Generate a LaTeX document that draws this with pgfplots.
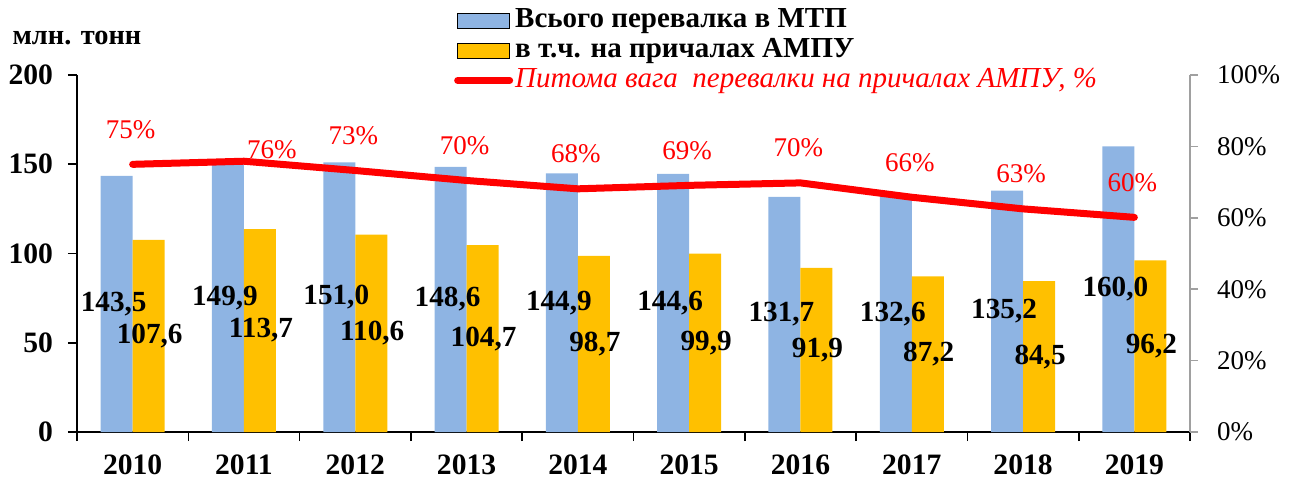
\documentclass[border=0pt]{standalone}
\usepackage{pgfplots}
\pgfplotsset{compat=1.18}
\usepackage{pgfplotstable}
\usepackage{fontspec}
\setmainfont{Liberation Serif}

\definecolor{barblue}{RGB}{142,180,227}
\definecolor{barorange}{RGB}{255,192,0}
\definecolor{axgray}{RGB}{160,160,160}

% обсяги перевалки, млн. тонн
\pgfplotstableread{
x total ampu
0 143.5 107.6
1 149.9 113.7
2 151.0 110.6
3 148.6 104.7
4 144.9 98.7
5 144.6 99.9
6 131.7 91.9
7 132.6 87.2
8 135.2 84.5
9 160.0 96.2
}\tonnage

% питома вага, % (dx, dy -- зсув підпису, pt)
\pgfplotstableread{
x share lab dx dy
0 74.98 75 -1 17.5
1 75.85 76 14 6
2 73.25 73 -1 17.5
3 70.46 70 -1 17.5
4 68.12 68 -1 17.5
5 69.09 69 -1 17.5
6 69.78 70 -1 17.5
7 65.76 66 -1 17.5
8 62.50 63 -1 17.5
9 60.13 60 -1 17.5
}\sharetab

\pgfplotsset{
  barleg/.style={legend image code/.code={\fill[##1] (0pt,-3.75pt) rectangle (26pt,3.75pt);}},
  lineleg/.style={legend image code/.code={\draw[##1] (0pt,0pt) -- (26pt,0pt);}},
}

\begin{document}
\begin{tikzpicture}
\useasboundingbox (-38.5pt,-23.5pt) rectangle (609pt,216pt);

\begin{axis}[
  scale only axis,
  width=556.5pt, height=178.5pt,
  xmin=-0.5, xmax=9.5,
  ymin=0, ymax=200,
  axis x line*=bottom, axis y line*=left,
  clip=false,
  ybar,
  tick align=outside,
  major tick length=4.5pt,
  xtick={-0.5,0.5,...,9.5},
  xticklabels={},
  extra x ticks={0,1,...,9},
  extra x tick labels={2010,2011,2012,2013,2014,2015,2016,2017,2018,2019},
  extra x tick style={major tick length=0pt, tick label style={yshift=-8pt}},
  ytick={0,50,...,200},
  tick label style={font=\fontsize{14.8}{16}\selectfont\bfseries},
  yticklabel style={xshift=-4pt},
  /pgf/number format/assume math mode=true,
  tick style={black, line width=0.8pt},
  axis line style={line width=0.8pt},
]
  \addplot[ybar, bar width=16pt, bar shift=-8pt, fill=barblue, draw=none,
    visualization depends on={rawy \as \rawy},
    nodes near coords={\pgfmathprintnumber[fixed,fixed zerofill,precision=1,use comma]{\pgfplotspointmeta}},
    every node near coord/.append style={font=\fontsize{14.6}{16}\selectfont\bfseries, text=black,
      anchor=center, yshift=-0.44625*\rawy, xshift=-1.5pt}]
    table[x=x, y=total] {\tonnage};
  \addplot[ybar, bar width=16pt, bar shift=8pt, fill=barorange, draw=none,
    visualization depends on={rawy \as \rawy},
    nodes near coords={\pgfmathprintnumber[fixed,fixed zerofill,precision=1,use comma]{\pgfplotspointmeta}},
    every node near coord/.append style={font=\fontsize{14.6}{16}\selectfont\bfseries, text=black,
      anchor=center, yshift=-0.44625*\rawy, xshift=0.5pt}]
    table[x=x, y=ampu] {\tonnage};
  \node[font=\fontsize{14.2}{16}\selectfont\bfseries, anchor=center, yshift=18.5pt] at (rel axis cs:0,1) {млн. тонн};
\end{axis}

\begin{axis}[
  scale only axis,
  width=556.5pt, height=178.5pt,
  xmin=-0.5, xmax=9.5,
  ymin=0, ymax=100,
  axis x line=none, axis y line*=right,
  clip=false,
  tick align=outside,
  major tick length=4pt,
  ytick={0,20,...,100},
  yticklabel={\pgfmathprintnumber{\tick}\%},
  yticklabel style={xshift=6pt},
  /pgf/number format/assume math mode=true,
  tick label style={font=\fontsize{13.5}{16}\selectfont},
  y axis line style={axgray, line width=0.8pt},
  ytick style={axgray, line width=0.8pt},
  legend style={at={(0.3385,1.196)}, anchor=north west, draw=none, fill=none,
    inner sep=0pt, row sep=0pt,
    font=\fontsize{14.5}{15}\selectfont\bfseries,
    nodes={inner sep=1pt, text height=10pt, text depth=3pt}},
  legend cell align=left,
]
  \addlegendimage{barleg, fill=barblue}
  \addlegendentry{Всього перевалка в МТП}
  \addlegendimage{barleg, fill=barorange}
  \addlegendentry{в т.ч. на причалах АМПУ}
  \addplot[red, line width=3.5pt, line cap=round, line join=round, mark=none, lineleg,
    point meta=explicit symbolic,
    visualization depends on={\thisrow{dx} \as \dx},
    visualization depends on={\thisrow{dy} \as \dy},
    nodes near coords={\pgfplotspointmeta\%},
    every node near coord/.append style={font=\fontsize{13.5}{16}\selectfont, text=red,
      anchor=center, xshift=\dx pt, yshift=\dy pt}]
    table[x=x, y=share, meta=lab] {\sharetab};
  \addlegendentry{\mdseries\itshape\color{red}Питома вага\ \ перевалки на причалах АМПУ, \%}
\end{axis}
\end{tikzpicture}
\end{document}
